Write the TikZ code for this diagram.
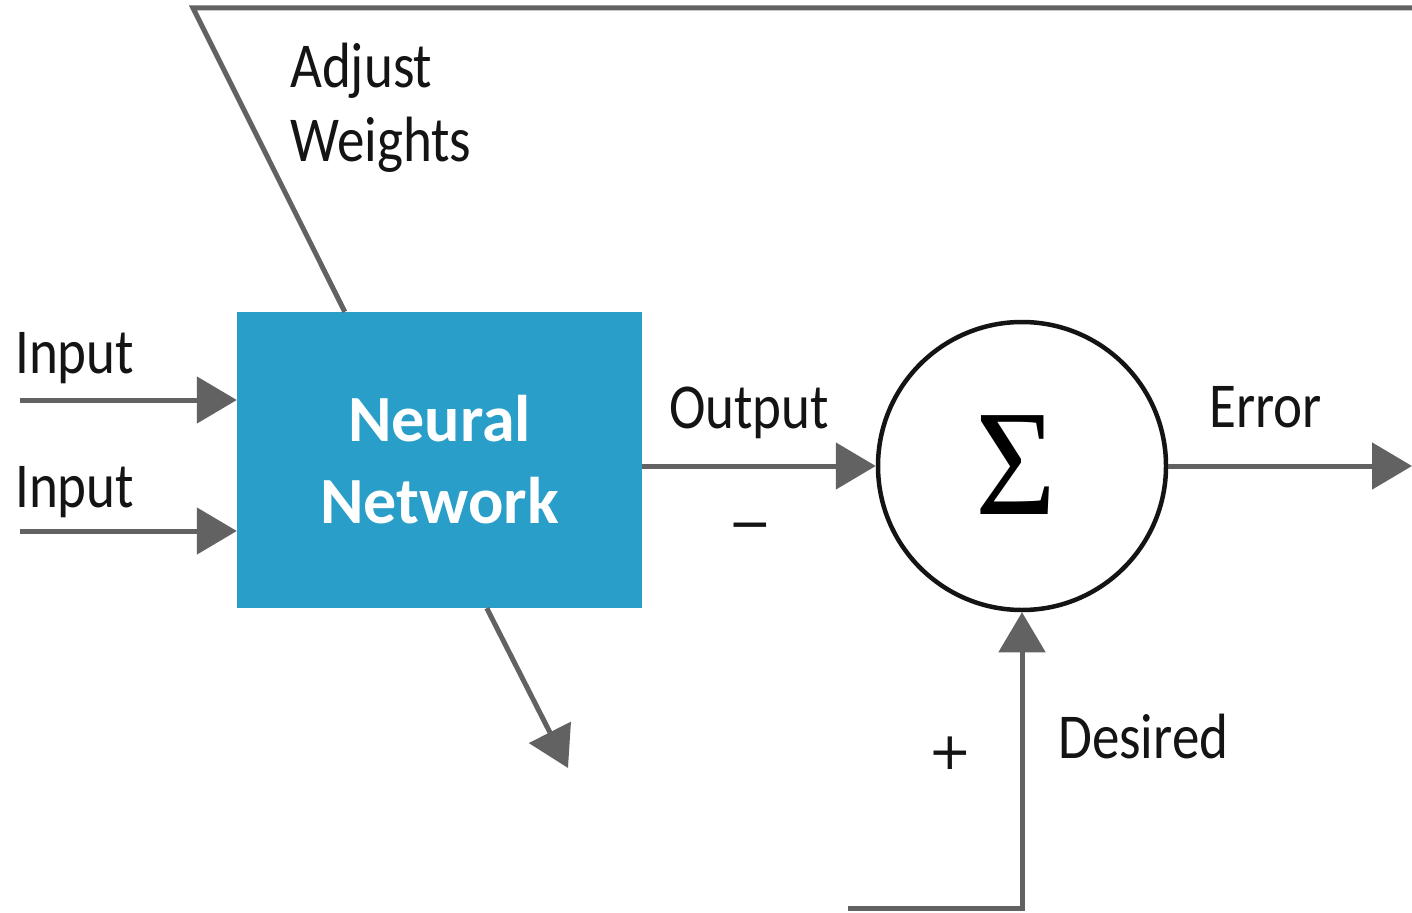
\documentclass[tikz,border=0pt]{standalone}
\usepackage{fontspec}
\setmainfont{Carlito}[FakeStretch=0.86]
\newfontfamily\boldfam{Carlito}
\newfontfamily\symfam{DejaVu Sans}
\newfontfamily\sigfam{Liberation Serif}
\usetikzlibrary{arrows.meta}
\definecolor{nnblue}{RGB}{40,158,200}
\definecolor{linegray}{RGB}{98,98,98}
\definecolor{inkblack}{RGB}{20,20,20}
\tikzset{
  conn/.style={draw=linegray, line width=5pt},
  arr/.style={conn, -{Triangle[length=40pt,width=46pt]}, color=linegray},
  lbl/.style={anchor=base west, inner sep=0pt, text=inkblack, font=\fontsize{64}{70}\selectfont},
  sym/.style={anchor=base, inner sep=0pt, text=inkblack, font=\symfam\fontsize{52}{60}\selectfont},
  netbox/.style={rectangle, fill=nnblue, minimum width=405pt, minimum height=296pt, inner sep=0pt,
    text=white, align=center, font=\boldfam\bfseries\fontsize{66}{82}\selectfont},
  sumnode/.style={circle, draw=inkblack, line width=4.5pt, minimum size=288pt, inner sep=0pt}
}
\begin{document}
\begin{tikzpicture}[x=1pt,y=-1pt]
\useasboundingbox[fill=white] (0,0) rectangle (1412,912);
% main blocks
\node[netbox] (nn) at (439.5,460) {Neural\\Network};
\node[sumnode] (sum) at (1022,466) {};
\node[inner sep=0pt, text=black] (sigma) at (1016,465) {\scalebox{0.92}[1]{\sigfam\fontsize{151}{155}\selectfont Σ}};
% coordinates for free ends
\coordinate (in1) at (20,400);
\coordinate (in2) at (20,531);
\coordinate (errend) at (1412,466);
\coordinate (des0) at (848,908);
\coordinate (awtop) at (1412,8);
\coordinate (awcorner) at (193,8);
\coordinate (outend) at (568,768);
% connectors
\draw[arr] (in1) -- (in1 -| nn.west);
\draw[arr] (in2) -- (in2 -| nn.west);
\draw[arr] (nn.east |- sum.west) -- (sum.west);
\draw[arr] (sum.east) -- (errend);
\draw[arr] (des0) -- (des0 -| sum.south) -- (sum.south);
\draw[conn] (awtop) -- (awcorner) -- ([xshift=108pt]nn.north west);
\draw[arr] ([xshift=250pt]nn.south west) -- (outend);
% labels
\node[lbl] (lin1) at (15,373) {Input};
\node[lbl] (lin2) at (15,507) {Input};
\node[lbl] (lout) at (669,428) {Output};
\node[lbl] (lerr) at (1209,427) {Error};
\node[lbl] (ldes) at (1058,758) {Desired};
\node[lbl] (ladj1) at (290,88) {Adjust};
\node[lbl] (ladj2) at (290,161) {Weights};
\node[sym] (lminus) at (750,541) {−};
\node[sym] (lplus) at (950,769) {+};
\end{tikzpicture}
\end{document}
